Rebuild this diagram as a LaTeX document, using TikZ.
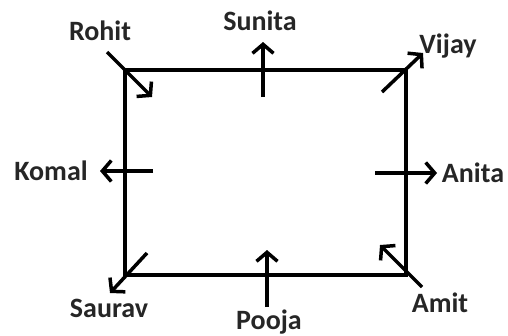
\documentclass[tikz,border=0pt]{standalone}
\usepackage{fontspec}
\setmainfont{Carlito}
\usetikzlibrary{arrows.meta}

\begin{document}
\begin{tikzpicture}[x=1pt, y=-1pt, line width=3.5pt,
    facing/.style={-{Straight Barb[length=9pt,width=21pt]}},
    person/.style={font=\bfseries\fontsize{28}{32}\selectfont, text=black!85, inner sep=0pt, anchor=base}]

    % constants
    \def\xl{125}
    \def\xr{406}
    \def\yt{70}
    \def\yb{275}

    \useasboundingbox (0,0) rectangle (508,335);

    % field
    \coordinate (nw) at (\xl,\yt);
    \coordinate (ne) at (\xr,\yt);
    \coordinate (se) at (\xr,\yb);
    \coordinate (sw) at (\xl,\yb);
    \draw (nw) -- (ne) -- (se) -- (sw) -- cycle;

    % names (at their base lines)
    \node [person] (rohit)  at (100,40)  {Rohit};
    \node [person] (sunita) at (260,30)  {Sunita};
    \node [person] (vijay)  at (448,53)  {Vijay};
    \node [person] (komal)  at (51,180)  {Komal};
    \node [person] (anita)  at (473,182) {Anita};
    \node [person] (saurav) at (109,317) {Saurav};
    \node [person] (pooja)  at (269,329) {Pooja};
    \node [person] (amit)   at (440,312) {Amit};

    % facing directions
    \coordinate (rohit-a)  at (107,52);
    \coordinate (rohit-b)  at (152,97);
    \coordinate (sunita-a) at (263,97);
    \coordinate (sunita-b) at (263,42);
    \coordinate (vijay-a)  at (382,92);
    \coordinate (vijay-b)  at (423,53);
    \coordinate (komal-a)  at (153,171);
    \coordinate (komal-b)  at (100,171);
    \coordinate (anita-a)  at (375,173);
    \coordinate (anita-b)  at (437,173);
    \coordinate (saurav-a) at (147,253);
    \coordinate (saurav-b) at (110,293);
    \coordinate (pooja-a)  at (267,307);
    \coordinate (pooja-b)  at (267,250);
    \coordinate (amit-a)   at (422,287);
    \coordinate (amit-b)   at (380,245);

    \foreach \who in {rohit,sunita,vijay,komal,anita,saurav,pooja,amit}
        \draw [facing] (\who-a) -- (\who-b);

\end{tikzpicture}
\end{document}
